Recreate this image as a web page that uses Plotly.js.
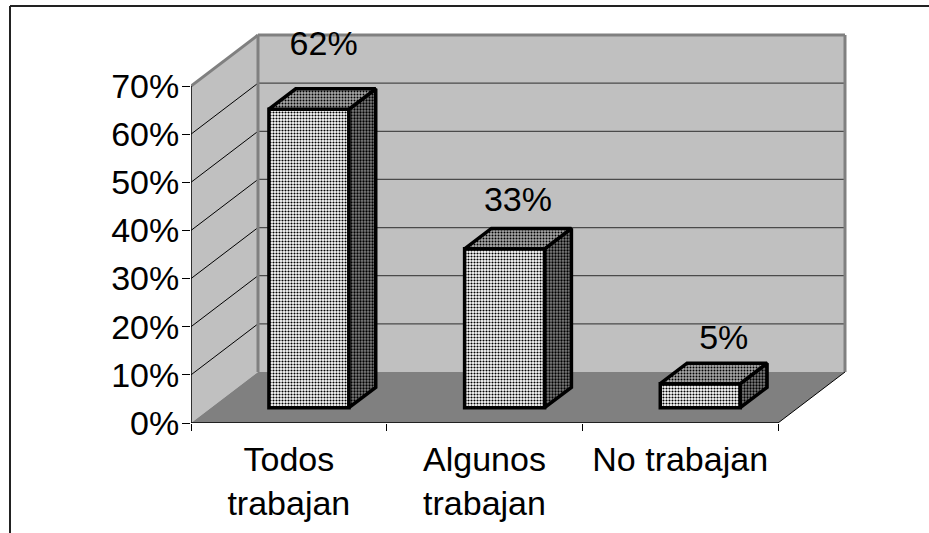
<!DOCTYPE html>
<html><head><meta charset="utf-8">
<script src="https://cdn.plot.ly/plotly-3.0.1.min.js"></script>
<style>html,body{margin:0;padding:0;background:#fff}</style></head>
<body><div id="chart" style="width:929px;height:533px"></div>
<script>
// Data
const categories = ['Todos<br>trabajan', 'Algunos<br>trabajan', 'No trabajan'];
const values = [62, 33, 5];
const yTicks = [0, 10, 20, 30, 40, 50, 60, 70];
const yTickLabels = ['0%', '10%', '20%', '30%', '40%', '50%', '60%', '70%'];
const labelShiftX = [0.075, 0.068, 0.12];
const labelShiftY = [13, 9.6, 9];

// Oblique projection of the 3D box in axis units
const PX_X = 195.67, PX_Y = 4.814;
const DEPTH_X = 67 / PX_X, DEPTH_Y = 51 / PX_Y;
const YMAX = 70, N = categories.length;
const BAR_W = 80 / PX_X, D0 = 0.3, D1 = 0.7;
const FONT = 34;
const centers = values.map((_, i) => i + 0.5);
const px = (x, d) => x + d * DEPTH_X;
const py = (y, d) => y + d * DEPTH_Y;

const poly = (xs, ys, fill, lineColor, w, layer) => ({
  type: 'path', xref: 'x', yref: 'y', layer: layer || 'below',
  path: 'M' + xs.map((x, i) => x + ',' + ys[i]).join('L') + 'Z',
  fillcolor: fill, line: { color: lineColor, width: w }
});
const seg = (x0, y0, x1, y1, color, w) => ({
  type: 'line', xref: 'x', yref: 'y', layer: 'below', x0, y0, x1, y1, line: { color, width: w }
});

const shapes = [
  poly([0, px(0,1), px(0,1), 0], [0, py(0,1), py(YMAX,1), YMAX], '#c0c0c0', '#c0c0c0', 0),
  poly([px(0,1), px(N,1), px(N,1), px(0,1)], [py(0,1), py(0,1), py(YMAX,1), py(YMAX,1)], '#c0c0c0', '#c0c0c0', 0),
  poly([0, N, px(N,1), px(0,1)], [0, 0, py(0,1), py(0,1)], '#808080', '#808080', 0)
];
yTicks.slice(1, -1).forEach(t => {
  shapes.push(seg(0, t, px(0,1), py(t,1), '#000', 1));
  shapes.push(seg(px(0,1), py(t,1), px(N,1), py(t,1), '#4a4a4a', 1.3));
});
shapes.push(seg(0, YMAX, px(0,1), py(YMAX,1), '#808080', 3));
shapes.push(seg(px(0,1), py(YMAX,1), px(N,1), py(YMAX,1), '#808080', 3));
shapes.push(seg(px(0,1), py(0,1), px(0,1), py(YMAX,1), '#808080', 3));
shapes.push(seg(px(N,1), py(0,1), px(N,1), py(YMAX,1), '#808080', 3));
shapes.push(seg(N, 0, px(N,1), py(0,1), '#000', 1));
// Outer frame of the chart picture
shapes.push({ type:'line', xref:'paper', yref:'paper', x0:-181/658, x1:738/658, y0:1+27/390, y1:1+27/390, line:{color:'#222',width:2} });
shapes.push({ type:'line', xref:'paper', yref:'paper', x0:-181/658, x1:-181/658, y0:-110/390, y1:1+27/390, line:{color:'#222',width:2} });

const box = { color: '#000', width: 3.5 };
const sideX = [], sideY = [], topX = [], topY = [];
values.forEach((v, i) => {
  const l = centers[i] - BAR_W / 2, r = centers[i] + BAR_W / 2;
  sideX.push(px(r, D0), px(r, D1), px(r, D1), px(r, D0), px(r, D0), null);
  sideY.push(py(0, D0), py(0, D1), py(v, D1), py(v, D0), py(0, D0), null);
  topX.push(px(l, D0), px(r, D0), px(r, D1), px(l, D1), px(l, D0), null);
  topY.push(py(v, D0), py(v, D0), py(v, D1), py(v, D1), py(v, D0), null);
});

const data = [
  { type: 'bar', x: centers.map((c) => px(c, D0)), y: values, base: values.map(() => py(0, D0)),
    width: BAR_W, hoverinfo: 'skip', showlegend: false,
    marker: { color: '#fff', line: box,
      pattern: { shape: '.', bgcolor: '#ffffff', fgcolor: '#000000', size: 3, solidity: 0.4, fillmode: 'replace' } } },
  { type: 'scatter', mode: 'lines', x: sideX, y: sideY, fill: 'toself', cliponaxis: false, hoverinfo: 'skip', showlegend: false,
    line: box, fillcolor: '#555', fillpattern: { shape: '.', bgcolor: '#808080', fgcolor: '#000000', size: 3, solidity: 0.45 } },
  { type: 'scatter', mode: 'lines', x: topX, y: topY, fill: 'toself', cliponaxis: false, hoverinfo: 'skip', showlegend: false,
    line: box, fillcolor: '#808080', fillpattern: { shape: '.', bgcolor: '#a8a8a8', fgcolor: '#000000', size: 3, solidity: 0.35 } },
  { type: 'scatter', mode: 'lines', x: [0, 0, null, 0, N], y: [0, YMAX, null, 0, 0], cliponaxis: false,
    hoverinfo: 'skip', showlegend: false, line: { color: '#000', width: 1.5 } },
  { type: 'scatter', mode: 'text', x: values.map((_, i) => px(centers[i], D0) + labelShiftX[i]),
    y: values.map((v, i) => py(v, D0) + labelShiftY[i]), text: values.map(v => v + '%'),
    textposition: 'middle center', textfont: { family: 'Liberation Sans, Arial, sans-serif', size: FONT, color: '#000' },
    cliponaxis: false, hoverinfo: 'skip', showlegend: false }
];

const layout = {
  width: 929, height: 533, paper_bgcolor: '#fff', plot_bgcolor: '#fff', showlegend: false,
  margin: { l: 191, r: 80, t: 33, b: 110, pad: 0 },
  font: { family: 'Liberation Sans, Arial, sans-serif', size: FONT, color: '#000' },
  xaxis: { range: [0, 658 / PX_X], tickmode: 'array', tickvals: centers, ticktext: categories,
    ticks: 'outside', ticklen: 0, tickwidth: 0, showgrid: false, zeroline: false, showline: false,
    ticklabelstandoff: 6, tickfont: { size: FONT }, tickangle: 0,
    minor: { tickmode: 'array', tickvals: [0, 1, 2, 3], ticks: 'outside', ticklen: 7, tickwidth: 1, tickcolor: '#000', showgrid: false } },
  yaxis: { range: [0, 390 / PX_Y], tickmode: 'array', tickvals: yTicks, ticktext: yTickLabels,
    ticks: 'outside', ticklen: 8, tickwidth: 1, tickcolor: '#000', showgrid: false, zeroline: false, showline: false,
    ticklabelstandoff: -4, tickfont: { size: FONT } },
  shapes
};
Plotly.newPlot('chart', data, layout, { displayModeBar: false, staticPlot: true });
</script></body></html>
